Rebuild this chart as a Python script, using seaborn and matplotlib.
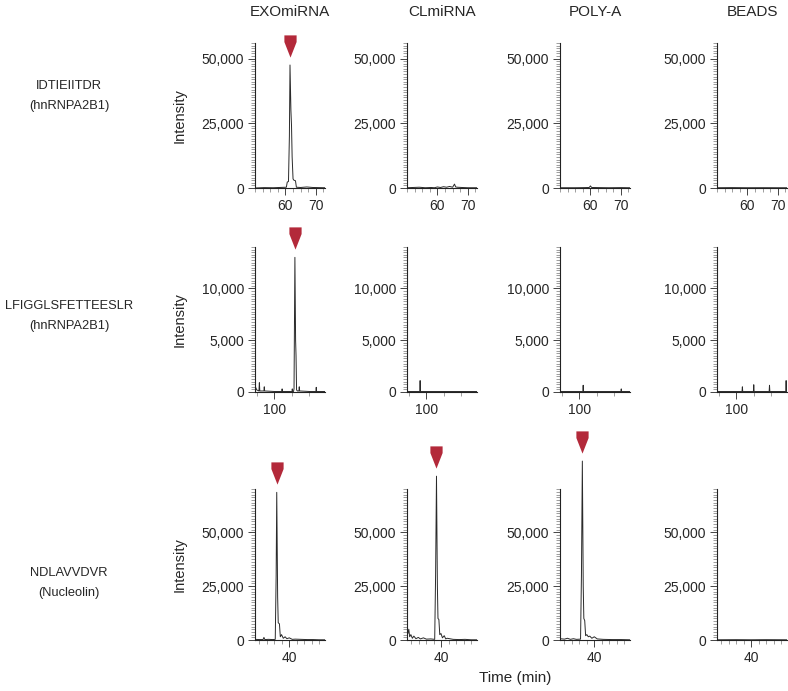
import numpy as np
import matplotlib
matplotlib.use('Agg')
import matplotlib.pyplot as plt
import matplotlib.transforms as mtrans
from matplotlib.path import Path
from matplotlib.ticker import MultipleLocator, FixedLocator, StrMethodFormatter
import seaborn as sns

# Column and row labels
columns = ['EXOmiRNA', 'CLmiRNA', 'POLY-A', 'BEADS']
peptides = ['IDTIEIITDR\n(hnRNPA2B1)', 'LFIGGLSFETTEESLR\n(hnRNPA2B1)', 'NDLAVVDVR\n(Nucleolin)']

# Row 1 traces: IDTIEIITDR (time in min, intensity)
r1_exo_t = [50, 53, 56, 58, 60.3, 60.6, 61.0, 61.3, 61.5, 61.8, 62.0, 62.2, 62.5, 62.8, 63.3, 63.6, 65, 67, 69, 71, 73]
r1_exo_y = [0, 150, 100, 200, 300, 2300, 2500, 20000, 47500, 30000, 24000, 12000, 3500, 3000, 2800, 300, 200, 400, 200, 150, 100]
r1_cl_t = [50, 54, 56, 58, 59, 60, 61, 62, 63, 64, 65, 65.6, 66, 66.5, 68, 70, 73]
r1_cl_y = [100, 300, 100, 200, 100, 400, 200, 500, 300, 600, 300, 1500, 400, 300, 200, 100, 100]
r1_poly_t = [50, 55, 58, 59.6, 60, 60.4, 63, 66, 70, 73]
r1_poly_y = [100, 100, 150, 200, 800, 200, 150, 100, 150, 100]
r1_beads_t = [50, 55, 60, 65, 70, 73]
r1_beads_y = [100, 150, 100, 120, 100, 100]

# Row 2 traces: LFIGGLSFETTEESLR
r2_exo_t = [78, 80, 82.5, 83, 83.5, 86, 88.2, 88.6, 89, 100, 108.6, 109, 109.4, 118, 120.3, 120.6, 121,
            122, 122.6, 123.6, 124.4, 124.9, 125.5, 126.5, 128.2, 128.6, 129, 140, 147.6, 148, 148.4, 158]
r2_exo_y = [600, 200, 100, 900, 100, 100, 100, 500, 100, 50, 50, 300, 50, 50, 50, 300, 50,
            50, 300, 13000, 5000, 3500, 200, 100, 100, 500, 100, 50, 50, 450, 50, 50]
r2_cl_t = [78, 92.6, 93, 93.4, 158]
r2_cl_y = [50, 50, 1100, 50, 50]
r2_poly_t = [78, 104.1, 104.5, 104.9, 147.6, 148, 148.4, 158]
r2_poly_y = [50, 50, 650, 50, 50, 300, 50, 50]
r2_beads_t = [78, 106.6, 107, 107.4, 119.6, 120, 120.4, 137.6, 138, 138.4, 156.6, 157, 157.4]
r2_beads_y = [50, 50, 500, 50, 50, 700, 50, 50, 650, 50, 50, 1100, 50]

# Row 3 traces: NDLAVVDVR
r3_exo_t = [28.5, 30, 31.2, 31.5, 31.8, 33, 34.5, 35.3, 35.6, 35.8, 36.1, 36.3, 36.7, 37.0, 37.4,
            38, 38.6, 39.2, 40, 41, 42, 44, 46, 48, 50, 52]
r3_exo_y = [300, 200, 200, 1200, 200, 300, 200, 300, 30000, 68500, 20000, 8000, 7500, 1500, 2500,
            800, 1500, 600, 1000, 300, 400, 300, 200, 200, 100, 100]
r3_cl_t = [28.5, 28.8, 29.1, 29.4, 29.8, 30.3, 30.8, 31.5, 32.3, 33, 34, 35, 36.5, 37.8, 38.1, 38.4,
           38.7, 38.9, 39.2, 39.5, 39.9, 40.4, 41, 41.5, 42, 44, 46, 48, 50, 52]
r3_cl_y = [5500, 3000, 5000, 1500, 2500, 800, 1800, 600, 1200, 500, 1000, 400, 500, 300, 30000, 76000,
           25000, 10000, 9500, 2500, 3000, 1000, 2000, 500, 800, 300, 200, 300, 100, 100]
r3_poly_t = [28.5, 30, 31, 32, 33, 34, 35.4, 35.7, 36.0, 36.3, 36.5, 36.8, 37.1, 37.5, 38, 38.5,
             39.2, 40, 41, 43, 46, 49, 52]
r3_poly_y = [600, 400, 800, 300, 600, 300, 400, 30000, 83000, 25000, 10000, 9000, 2000, 2500, 1500, 1800,
             800, 1500, 500, 300, 200, 200, 100]
r3_beads_t = [28.5, 35, 40, 45, 52]
r3_beads_y = [100, 150, 100, 150, 100]

traces = [
    [(r1_exo_t, r1_exo_y), (r1_cl_t, r1_cl_y), (r1_poly_t, r1_poly_y), (r1_beads_t, r1_beads_y)],
    [(r2_exo_t, r2_exo_y), (r2_cl_t, r2_cl_y), (r2_poly_t, r2_poly_y), (r2_beads_t, r2_beads_y)],
    [(r3_exo_t, r3_exo_y), (r3_cl_t, r3_cl_y), (r3_poly_t, r3_poly_y), (r3_beads_t, r3_beads_y)],
]
# which panels carry the red peak marker
has_marker = [[True, False, False, False],
              [True, False, False, False],
              [True, True, True, False]]

# per-row axis settings
row_ylim = [56000, 14000, 90000]
row_spine_top = [56000, 14000, 70000]
row_yticks = [[0, 25000, 50000], [0, 5000, 10000], [0, 25000, 50000]]
row_yminor = [1000, 250, 1250]
row_xlim = [(50, 73), (78, 158), (28.5, 52)]
row_xticks = [[60, 70], [100], [40]]
row_xminor = [2.5, 20, 2.5]

sns.set_theme(style='ticks')
plt.rcParams['font.family'] = ['Liberation Sans', 'DejaVu Sans']

W, H = 788, 691
fig = plt.figure(figsize=(W / 100, H / 100), dpi=100)

col_left = [255, 407, 560, 717]
ax_w = 70
rows_px = [(43, 188), (247, 392), (446, 640)]  # axes top, zero line

# red flag marker: flat top, pointed bottom
verts = [(-0.55, 1), (0.55, 1), (0.55, 0.4), (0, -1), (-0.55, 0.4), (-0.55, 1)]
codes = [Path.MOVETO] + [Path.LINETO] * 4 + [Path.CLOSEPOLY]
flag = Path(verts, codes)
red = '#b3293a'

for r in range(3):
    top, zero = rows_px[r]
    for c in range(4):
        ax = fig.add_axes([col_left[c] / W, 1 - zero / H, ax_w / W, (zero - top) / H])
        t, y = traces[r][c]
        sns.lineplot(x=t, y=y, ax=ax, color='#2a2a2a', linewidth=0.7,
                     estimator=None, sort=False, legend=False)
        ax.set_xlim(*row_xlim[r])
        ax.set_ylim(0, row_ylim[r])
        ax.set_xticks(row_xticks[r])
        ax.set_yticks(row_yticks[r])
        ax.yaxis.set_minor_locator(FixedLocator(np.arange(0, row_spine_top[r] + 1, row_yminor[r])))
        ax.xaxis.set_minor_locator(MultipleLocator(row_xminor[r]))
        ax.yaxis.set_major_formatter(StrMethodFormatter('{x:,.0f}'))
        sns.despine(ax=ax)
        ax.spines['left'].set_bounds(0, row_spine_top[r])
        for s in ['left', 'bottom']:
            ax.spines[s].set_linewidth(0.8)
            ax.spines[s].set_color('#222222')
        ax.tick_params(axis='both', which='major', length=5, width=0.7, labelsize=10,
                       color='#444444', pad=3)
        ax.tick_params(axis='both', which='minor', length=3, width=0.5, color='#777777')
        ax.set_xlabel('')
        if c == 0:
            ax.set_ylabel('Intensity', fontsize=10.5)
            ax.yaxis.set_label_coords(-0.97, row_spine_top[r] / 2,
                                      transform=mtrans.blended_transform_factory(ax.transAxes, ax.transData))
        else:
            ax.set_ylabel('')
        if has_marker[r][c]:
            i = int(np.argmax(y))
            off = mtrans.ScaledTranslation(0, 19 / 100, fig.dpi_scale_trans)
            ax.plot([t[i]], [y[i]], marker=flag, markersize=16, color=red, linestyle='none',
                    markeredgewidth=0, transform=ax.transData + off, clip_on=False)
        if r == 0:
            fig.text((col_left[c] + ax_w / 2) / W, 1 - 12 / H, columns[c], ha='center', va='center',
                     fontsize=11)

row_label_y = [96, 316, 583]
for r in range(3):
    fig.text(69 / W, 1 - row_label_y[r] / H, peptides[r], ha='center', va='center',
             fontsize=9.3, linespacing=1.95)

fig.text(515 / W, 1 - 678 / H, 'Time (min)', ha='center', va='center', fontsize=11)

fig.savefig('out.png', dpi=100)
